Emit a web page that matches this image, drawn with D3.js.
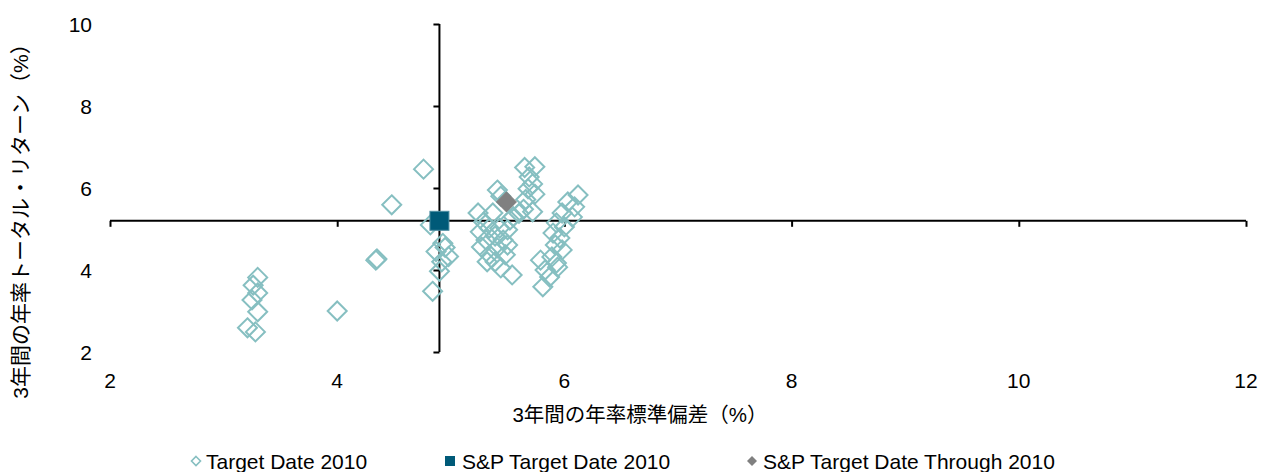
<!DOCTYPE html>
<html><head><meta charset="utf-8">
<script src="https://cdn.jsdelivr.net/npm/d3@7"></script>
<style>body{margin:0;background:#fff}text{font-family:"Liberation Sans","Noto Sans CJK JP",sans-serif;fill:#000}</style>
</head><body><svg id="c" width="1263" height="472"></svg>
<script>
// Target Date 2010 funds: [std dev %, total return %]
const targetDate2010 = [
  [3.30,3.82],[3.26,3.63],[3.30,3.44],[3.25,3.27],[3.30,2.98],[3.21,2.59],[3.28,2.49],
  [4.00,3.00],[4.34,4.24],[4.35,4.27],[4.48,5.59],[4.76,6.46],
  [4.82,5.10],[4.93,4.65],[4.87,4.45],[4.98,4.33],[4.92,4.20],[4.90,3.97],[4.84,3.48],[4.95,4.55],
  [5.41,5.95],[5.44,5.80],[5.24,5.39],[5.29,5.17],[5.26,4.93],[5.34,5.02],[5.43,5.02],[5.50,4.98],
  [5.39,4.83],[5.31,4.73],[5.46,4.73],[5.27,4.56],[5.41,4.54],[5.34,4.37],[5.48,4.37],[5.39,4.20],
  [5.44,4.05],[5.54,3.88],[5.32,4.20],[5.37,5.39],[5.52,5.22],[5.50,4.61],
  [5.65,6.50],[5.74,6.52],[5.69,6.27],[5.72,6.10],[5.68,5.98],[5.74,5.85],[5.66,5.72],[5.64,5.48],
  [5.60,5.38],[5.72,5.42],[5.55,5.30],
  [6.12,5.83],[6.03,5.66],[6.09,5.54],[5.98,5.39],[6.07,5.29],[5.93,5.15],[6.00,5.05],[5.90,4.90],
  [5.96,4.78],[5.92,4.61],[5.98,4.49],[5.89,4.32],[5.79,4.24],[5.93,4.17],[5.83,4.00],[5.87,3.83],
  [5.81,3.59],[5.94,4.07]
];
const spTargetDate2010 = [[4.90,5.20]];
const spTargetDateThrough2010 = [[5.49,5.66]];
const xTicks = [2,4,6,8,10,12];
const yTicks = [2,4,6,8,10];
const seriesNames = ["Target Date 2010","S&P Target Date 2010","S&P Target Date Through 2010"];
const xTitle = "3年間の年率標準偏差（%）";
const yTitle = "3年間の年率トータル・リターン（%）";
const crossX = 4.9, crossY = 5.2;

const svg = d3.select("#c");
const x = d3.scaleLinear().domain([2,12]).range([110,1246]);
const y = d3.scaleLinear().domain([2,10]).range([352,24]);

// tick labels (low position)
svg.append("g").selectAll("text").data(yTicks).join("text")
  .attr("x",92).attr("y",d=>y(d)+7.5).attr("text-anchor","end").attr("font-size",21).text(d=>d);
svg.append("g").selectAll("text").data(xTicks).join("text")
  .attr("x",d=>x(d)).attr("y",388).attr("text-anchor","middle").attr("font-size",21).text(d=>d);

// axes crossing at the S&P point
const xAxis = d3.axisBottom(x).tickValues(xTicks).tickSize(6).tickFormat("");
const gx = svg.append("g").attr("transform",`translate(0,${y(crossY)})`).call(xAxis);
gx.select(".domain").attr("d",`M${x(2)},0H${x(12)}`);
const yAxis = d3.axisLeft(y).tickValues(yTicks).tickSize(6).tickFormat("");
const gy = svg.append("g").attr("transform",`translate(${x(crossX)},0)`).call(yAxis);
gy.select(".domain").attr("d",`M0,${y(10)}V${y(2)}`);
svg.selectAll(".domain,.tick line").attr("stroke","#000").attr("stroke-width",2);

const diamond = r => `M0,${-r}L${r},0L0,${r}L${-r},0Z`;
svg.append("g").selectAll("path").data(targetDate2010).join("path")
  .attr("transform",d=>`translate(${x(d[0])},${y(d[1])})`)
  .attr("d",diamond(9.5)).attr("fill","none").attr("stroke","#86bfc1").attr("stroke-width",2);
svg.append("g").selectAll("path").data(spTargetDateThrough2010).join("path")
  .attr("transform",d=>`translate(${x(d[0])},${y(d[1])})`)
  .attr("d",diamond(10)).attr("fill","#808080").attr("stroke","#7a7a7a").attr("stroke-width",1);
svg.append("g").selectAll("rect").data(spTargetDate2010).join("rect")
  .attr("x",d=>x(d[0])-9.5).attr("y",d=>y(d[1])-9.5).attr("width",19).attr("height",19)
  .attr("fill","#005a78").attr("stroke","#4f8fa3").attr("stroke-width",1);

// titles
svg.append("text").attr("x",640).attr("y",422).attr("text-anchor","middle").attr("font-size",20.5).text(xTitle);
svg.append("text").attr("transform","translate(28,216) rotate(-90)").attr("text-anchor","middle").attr("font-size",21).text(yTitle);

// legend
const lg = svg.append("g");
const ly = 461;
lg.append("path").attr("transform",`translate(196,${ly})`).attr("d",diamond(4.5)).attr("fill","none").attr("stroke","#86bfc1").attr("stroke-width",1.6);
lg.append("rect").attr("x",445).attr("y",ly-5).attr("width",10).attr("height",10).attr("fill","#005a78");
lg.append("path").attr("transform",`translate(752,${ly})`).attr("d",diamond(5)).attr("fill","#808080");
[[206,seriesNames[0]],[462,seriesNames[1]],[763,seriesNames[2]]].forEach(([lx,t])=>{
  lg.append("text").attr("x",lx).attr("y",ly+7.5).attr("font-size",21).text(t);
});
</script></body></html>
